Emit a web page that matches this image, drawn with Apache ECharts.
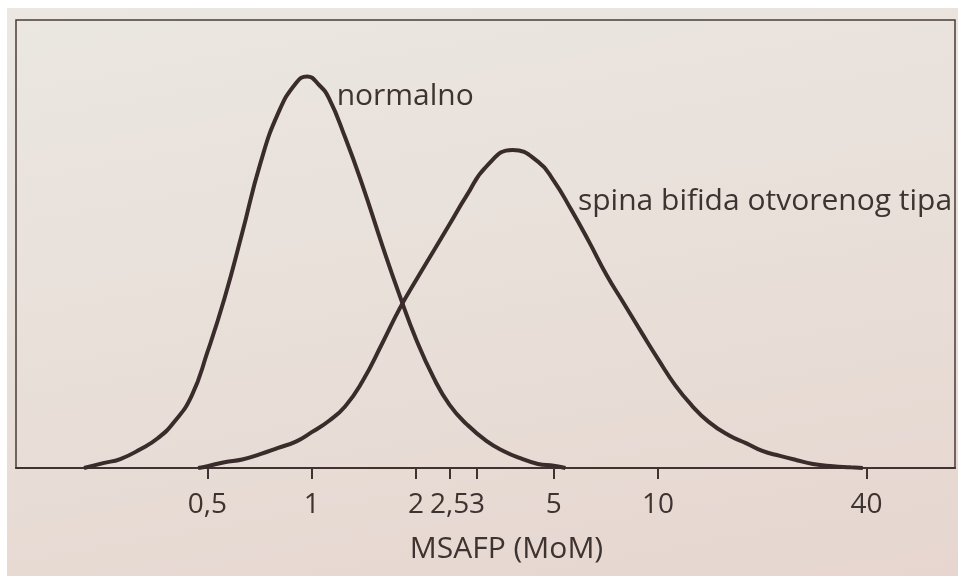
<!DOCTYPE html>
<html>
<head>
<meta charset="utf-8">
<script src="https://cdn.jsdelivr.net/npm/echarts@6/dist/echarts.min.js"></script>
<style>
  html, body { margin: 0; padding: 0; background: #ffffff; }
  #paper {
    position: absolute; left: 7px; top: 8px; width: 951px; height: 568px;
    background: linear-gradient(170deg, #ebe7e1 0%, #e9e0da 45%, #e6d6cf 100%);
  }
  #chart { position: absolute; left: 0; top: 0; width: 958px; height: 576px; }
</style>
</head>
<body>
<div id="paper"></div>
<div id="chart"></div>
<script>
// MSAFP (MoM) values and relative frequency (arbitrary units, 0-100)
const normalMoM  = [0.22, 0.25, 0.28, 0.32, 0.36, 0.40, 0.45, 0.50, 0.56, 0.63, 0.71, 0.80, 0.90, 0.97, 1.05, 1.12, 1.25, 1.4, 1.6, 1.8, 2.0, 2.25, 2.5, 2.8, 3.2, 3.6, 4.0, 4.5, 5.0, 5.4];
const normalFreq = [0, 1.1, 2.0, 4.2, 6.7, 10.2, 16.1, 25.9, 37.9, 52.5, 67.9, 79.2, 85.9, 87.4, 85.5, 82.6, 73.7, 63.2, 49.6, 38.2, 28.8, 20.1, 14.1, 9.8, 6.0, 3.7, 2.2, 0.9, 0.5, 0];

const spinaMoM  = [0.47, 0.50, 0.56, 0.63, 0.71, 0.80, 0.90, 1.0, 1.12, 1.25, 1.4, 1.6, 1.8, 2.0, 2.25, 2.5, 2.8, 3.2, 3.8, 4.5, 5.0, 5.6, 6.3, 7.1, 8.0, 9.0, 10, 11.2, 12.5, 14, 16, 18, 20, 22.5, 25, 28, 32, 36, 39];
const spinaFreq = [0, 0.4, 1.3, 1.9, 3.1, 4.5, 5.9, 8.0, 10.5, 13.8, 19.3, 27.9, 35.8, 41.9, 48.5, 54.4, 60.8, 67.4, 71.0, 68.4, 64.1, 57.8, 50.7, 43.1, 36.5, 30.0, 24.3, 18.5, 14.0, 10.3, 7.3, 5.5, 3.8, 2.7, 1.8, 0.9, 0.4, 0.15, 0];

const tickValues = [0.5, 1, 2, 2.5, 3, 5, 10, 40];
const axisTitle = 'MSAFP (MoM)';
const normalLabel = 'normalno';
const spinaLabel = 'spina bifida otvorenog tipa';
const normalLabelAt = [1.18, 83.0];
const spinaLabelAt = [5.87, 59.6];

const ink = '#3a2c2a';
const textColor = '#3d3331';
const fontFamily = '"Open Sans", "DejaVu Sans", sans-serif';

function zip(xs, ys) { return xs.map((x, i) => [x, ys[i]]); }

const chart = echarts.init(document.getElementById('chart'), null, { renderer: 'canvas' });
chart.setOption({
  backgroundColor: 'transparent',
  animation: false,
  grid: {
    left: 16, right: 3, top: 20, bottom: 108,
    show: true, borderColor: '#4a3c39', borderWidth: 1.5, backgroundColor: 'transparent'
  },
  xAxis: {
    type: 'log',
    logBase: 10,
    min: 0.14,
    max: 72,
    name: axisTitle,
    nameLocation: 'middle',
    nameGap: 66,
    nameTextStyle: { fontFamily: fontFamily, fontSize: 30, color: textColor, padding: [0, 0, 0, 42] },
    axisLine: { show: true, lineStyle: { color: '#3f3230', width: 2 } },
    axisTick: { show: true, inside: false, length: 11, customValues: tickValues, lineStyle: { color: '#3f3230', width: 2 } },
    axisLabel: {
      show: true,
      customValues: tickValues,
      margin: 23,
      fontFamily: fontFamily, fontSize: 28, color: textColor,
      formatter: function (v) { return String(Math.round(v * 10) / 10).replace('.', ','); }
    },
    splitLine: { show: false },
    minorTick: { show: false }
  },
  yAxis: {
    type: 'value', min: 0, max: 100,
    show: false,
    splitLine: { show: false }
  },
  series: [
    {
      name: normalLabel,
      type: 'line',
      data: zip(normalMoM, normalFreq),
      smooth: 0.5,
      symbol: 'none',
      lineStyle: { color: ink, width: 4 },
      markPoint: {
        symbol: 'circle', symbolSize: 0,
        data: [{ coord: normalLabelAt }],
        label: {
          show: true, position: 'right', distance: 0,
          formatter: normalLabel,
          fontFamily: fontFamily, fontSize: 30, color: textColor
        }
      }
    },
    {
      name: spinaLabel,
      type: 'line',
      data: zip(spinaMoM, spinaFreq),
      smooth: 0.5,
      symbol: 'none',
      lineStyle: { color: ink, width: 4 },
      markPoint: {
        symbol: 'circle', symbolSize: 0,
        data: [{ coord: spinaLabelAt }],
        label: {
          show: true, position: 'right', distance: 0,
          formatter: spinaLabel,
          fontFamily: fontFamily, fontSize: 30, color: textColor
        }
      }
    }
  ]
});
</script>
</body>
</html>
